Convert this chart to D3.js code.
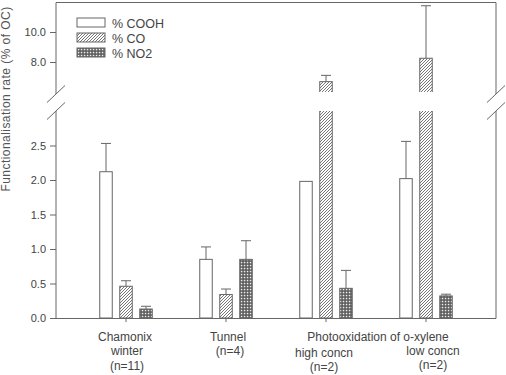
<html>
<head>
<meta charset="utf-8">
<title>Functionalisation rate</title>
<style>
  body { margin: 0; background: #fff; }
  text { font-family: "Liberation Sans", Arial, sans-serif; }
</style>
</head>
<body>
<script src="https://cdn.jsdelivr.net/npm/d3@7/dist/d3.min.js"></script>
<script>
    var w = 506, h = 375;

    // data
    var groups = ['chamonix', 'tunnel', 'high', 'low'];
    var series = ['% COOH', '% CO', '% NO2'];
    var cooh    = [2.12, 0.85, 1.98, 2.02];
    var coohErr = [0.41, 0.18, 0.00, 0.54];
    var co      = [0.46, 0.34, 6.69, 8.25];
    var coErr   = [0.08, 0.08, 0.42, 3.50];
    var no2     = [0.13, 0.85, 0.43, 0.32];
    var no2Err  = [0.04, 0.27, 0.26, 0.025];
    var lowTicks = [0, 0.5, 1.0, 1.5, 2.0, 2.5];
    var highTicks = [8.0, 10.0];
    var catLines = [['Chamonix', 'winter', '(n=11)'], ['Tunnel', '(n=4)'], ['high concn', '(n=2)'], ['low concn', '(n=2)']];
    var catHeader = 'Photooxidation of o-xylene';

    var values = [cooh, co, no2], errs = [coohErr, coErr, no2Err];
    var rows = [];
    series.forEach(function(s, si){
        groups.forEach(function(g, gi){
            rows.push({series: s, si: si, group: g, value: values[si][gi], err: errs[si][gi]});
        });
    });

    var mLeft = 56, mRight = 496, mTop = 2, mBottom = 318;
    var upBottom = 92, lowTop = 111;

    var x = d3.scaleBand().domain(groups).range([mLeft, mRight]).paddingInner(0).paddingOuter(0.2);
    var xs = d3.scaleBand().domain(series).range([-30, 30]).paddingInner(0.375).paddingOuter(0.1875);
    var yLow = d3.scaleLinear().domain([0, 3]).range([mBottom, lowTop]);
    var yHigh = d3.scaleLinear().domain([6, 12]).range([upBottom, mTop]);

    var svg = d3.select('body').append('svg').attr('width', w).attr('height', h);

    var defs = svg.append('defs');
    var hatch = defs.append('pattern').attr('id', 'hatch').attr('patternUnits', 'userSpaceOnUse')
        .attr('width', 3).attr('height', 3);
    hatch.append('rect').attr('width', 3).attr('height', 3).attr('fill', '#fff');
    hatch.append('path').attr('d', 'M-1,1 l2,-2 M0,3 l3,-3 M2,4 l2,-2')
        .attr('stroke', '#666').attr('stroke-width', 0.9);
    var cross = defs.append('pattern').attr('id', 'cross').attr('patternUnits', 'userSpaceOnUse')
        .attr('width', 3).attr('height', 3);
    cross.append('rect').attr('width', 3).attr('height', 3).attr('fill', '#5a5a5a');
    cross.append('rect').attr('x', 0.8).attr('y', 0.8).attr('width', 1.5).attr('height', 1.5).attr('fill', '#f0f0f0');

    var fills = ['#fff', 'url(#hatch)', 'url(#cross)'];
    var stroke = '#666';

    defs.append('clipPath').attr('id', 'clipHigh').append('rect')
        .attr('x', mLeft).attr('y', mTop).attr('width', mRight - mLeft).attr('height', upBottom - mTop);
    defs.append('clipPath').attr('id', 'clipLow').append('rect')
        .attr('x', mLeft).attr('y', lowTop).attr('width', mRight - mLeft).attr('height', mBottom - lowTop);

    function bx(d){ return x(d.group) + x.bandwidth() / 2 + xs(d.series); }
    function cx(d){ return bx(d) + xs.bandwidth() / 2; }

    // lower panel bars
    var low = svg.append('g').attr('clip-path', 'url(#clipLow)');
    low.selectAll('rect').data(rows).enter().append('rect')
        .attr('x', bx)
        .attr('y', function(d){ return yLow(Math.min(d.value, 3.2)); })
        .attr('width', xs.bandwidth())
        .attr('height', function(d){ return mBottom - yLow(Math.min(d.value, 3.2)); })
        .attr('fill', function(d){ return fills[d.si]; })
        .attr('stroke', stroke).attr('stroke-width', 1);

    // upper panel bars
    var highRows = rows.filter(function(d){ return d.value > 6; });
    var high = svg.append('g').attr('clip-path', 'url(#clipHigh)');
    high.selectAll('rect').data(highRows).enter().append('rect')
        .attr('x', bx)
        .attr('y', function(d){ return yHigh(d.value); })
        .attr('width', xs.bandwidth())
        .attr('height', function(d){ return upBottom + 2 - yHigh(d.value); })
        .attr('fill', function(d){ return fills[d.si]; })
        .attr('stroke', stroke).attr('stroke-width', 1);

    // error bars (upper only)
    var errRows = rows.filter(function(d){ return d.err > 0; });
    var eb = svg.append('g').attr('stroke', stroke).attr('stroke-width', 1);
    errRows.forEach(function(d){
        var sc = d.value > 6 ? yHigh : yLow;
        var y0 = sc(d.value), y1 = sc(d.value + d.err);
        eb.append('line').attr('x1', cx(d)).attr('x2', cx(d)).attr('y1', y0).attr('y2', y1);
        eb.append('line').attr('x1', cx(d) - 5).attr('x2', cx(d) + 5).attr('y1', y1).attr('y2', y1);
    });

    // axes
    var axisColor = '#666', textColor = '#444';
    function styleAxis(g){
        g.select('.domain').remove();
        g.selectAll('line').attr('stroke', axisColor);
        g.selectAll('text').attr('fill', textColor).style('font-size', '11px');
    }
    svg.append('g').attr('transform', 'translate(' + mLeft + ',0)')
        .call(d3.axisLeft(yLow).tickValues(lowTicks).tickFormat(d3.format('.1f')).tickSize(6).tickPadding(4))
        .call(styleAxis);
    svg.append('g').attr('transform', 'translate(' + mLeft + ',0)')
        .call(d3.axisLeft(yHigh).tickValues(highTicks).tickFormat(d3.format('.1f')).tickSize(6).tickPadding(4))
        .call(styleAxis);
    svg.append('g').attr('transform', 'translate(0,' + mBottom + ')')
        .call(d3.axisBottom(x).tickSize(4).tickFormat(''))
        .call(styleAxis);

    // frame with breaks
    var frame = svg.append('g').attr('stroke', axisColor).attr('stroke-width', 1).attr('fill', 'none');
    frame.append('path').attr('d', 'M' + mLeft + ',' + (upBottom + 2) + 'V' + (mTop + 0.5) + 'H' + mRight + 'V' + (upBottom + 2));
    frame.append('path').attr('d', 'M' + mLeft + ',' + lowTop + 'V' + (mBottom + 0.5) + 'H' + mRight + 'V' + lowTop);
    [mLeft, mRight].forEach(function(px){
        [upBottom + 2, lowTop].forEach(function(py){
            frame.append('line').attr('x1', px - 9).attr('y1', py + 8.5).attr('x2', px + 9).attr('y2', py - 8.5);
        });
    });

    // category labels
    var catOffsets = [[-1, 341, 14.3], [2, 341, 14], [-2, 357, 13.5], [7, 355, 13.5]];
    catLines.forEach(function(lines, gi){
        var o = catOffsets[gi];
        lines.forEach(function(t, li){
            svg.append('text')
                .attr('x', x(groups[gi]) + x.bandwidth() / 2 + o[0] + (li > 0 && gi < 2 ? 2 : 0))
                .attr('y', o[1] + li * o[2])
                .attr('text-anchor', 'middle')
                .attr('fill', textColor).style('font-size', '12px')
                .text(t);
        });
    });
    svg.append('text')
        .attr('x', (x('high') + x('low') + x.bandwidth()) / 2 + 2)
        .attr('y', 341)
        .attr('text-anchor', 'middle')
        .attr('fill', textColor).style('font-size', '12px')
        .text(catHeader);

    // y title
    svg.append('text')
        .attr('transform', 'translate(10,99) rotate(-90)')
        .attr('text-anchor', 'middle')
        .attr('fill', '#555').style('font-size', '12px').style('letter-spacing', '0.45px')
        .text('Functionalisation rate  (% of OC)');

    // legend
    var legend = svg.append('g').attr('transform', 'translate(77,18)');
    series.forEach(function(s, i){
        legend.append('rect').attr('x', 0).attr('y', i * 15).attr('width', 28).attr('height', 9)
            .attr('fill', fills[i]).attr('stroke', stroke);
        legend.append('text').attr('x', 35).attr('y', i * 15 + 9.5)
            .attr('fill', textColor).style('font-size', '12.5px').text(s);
    });
</script>
</body>
</html>
